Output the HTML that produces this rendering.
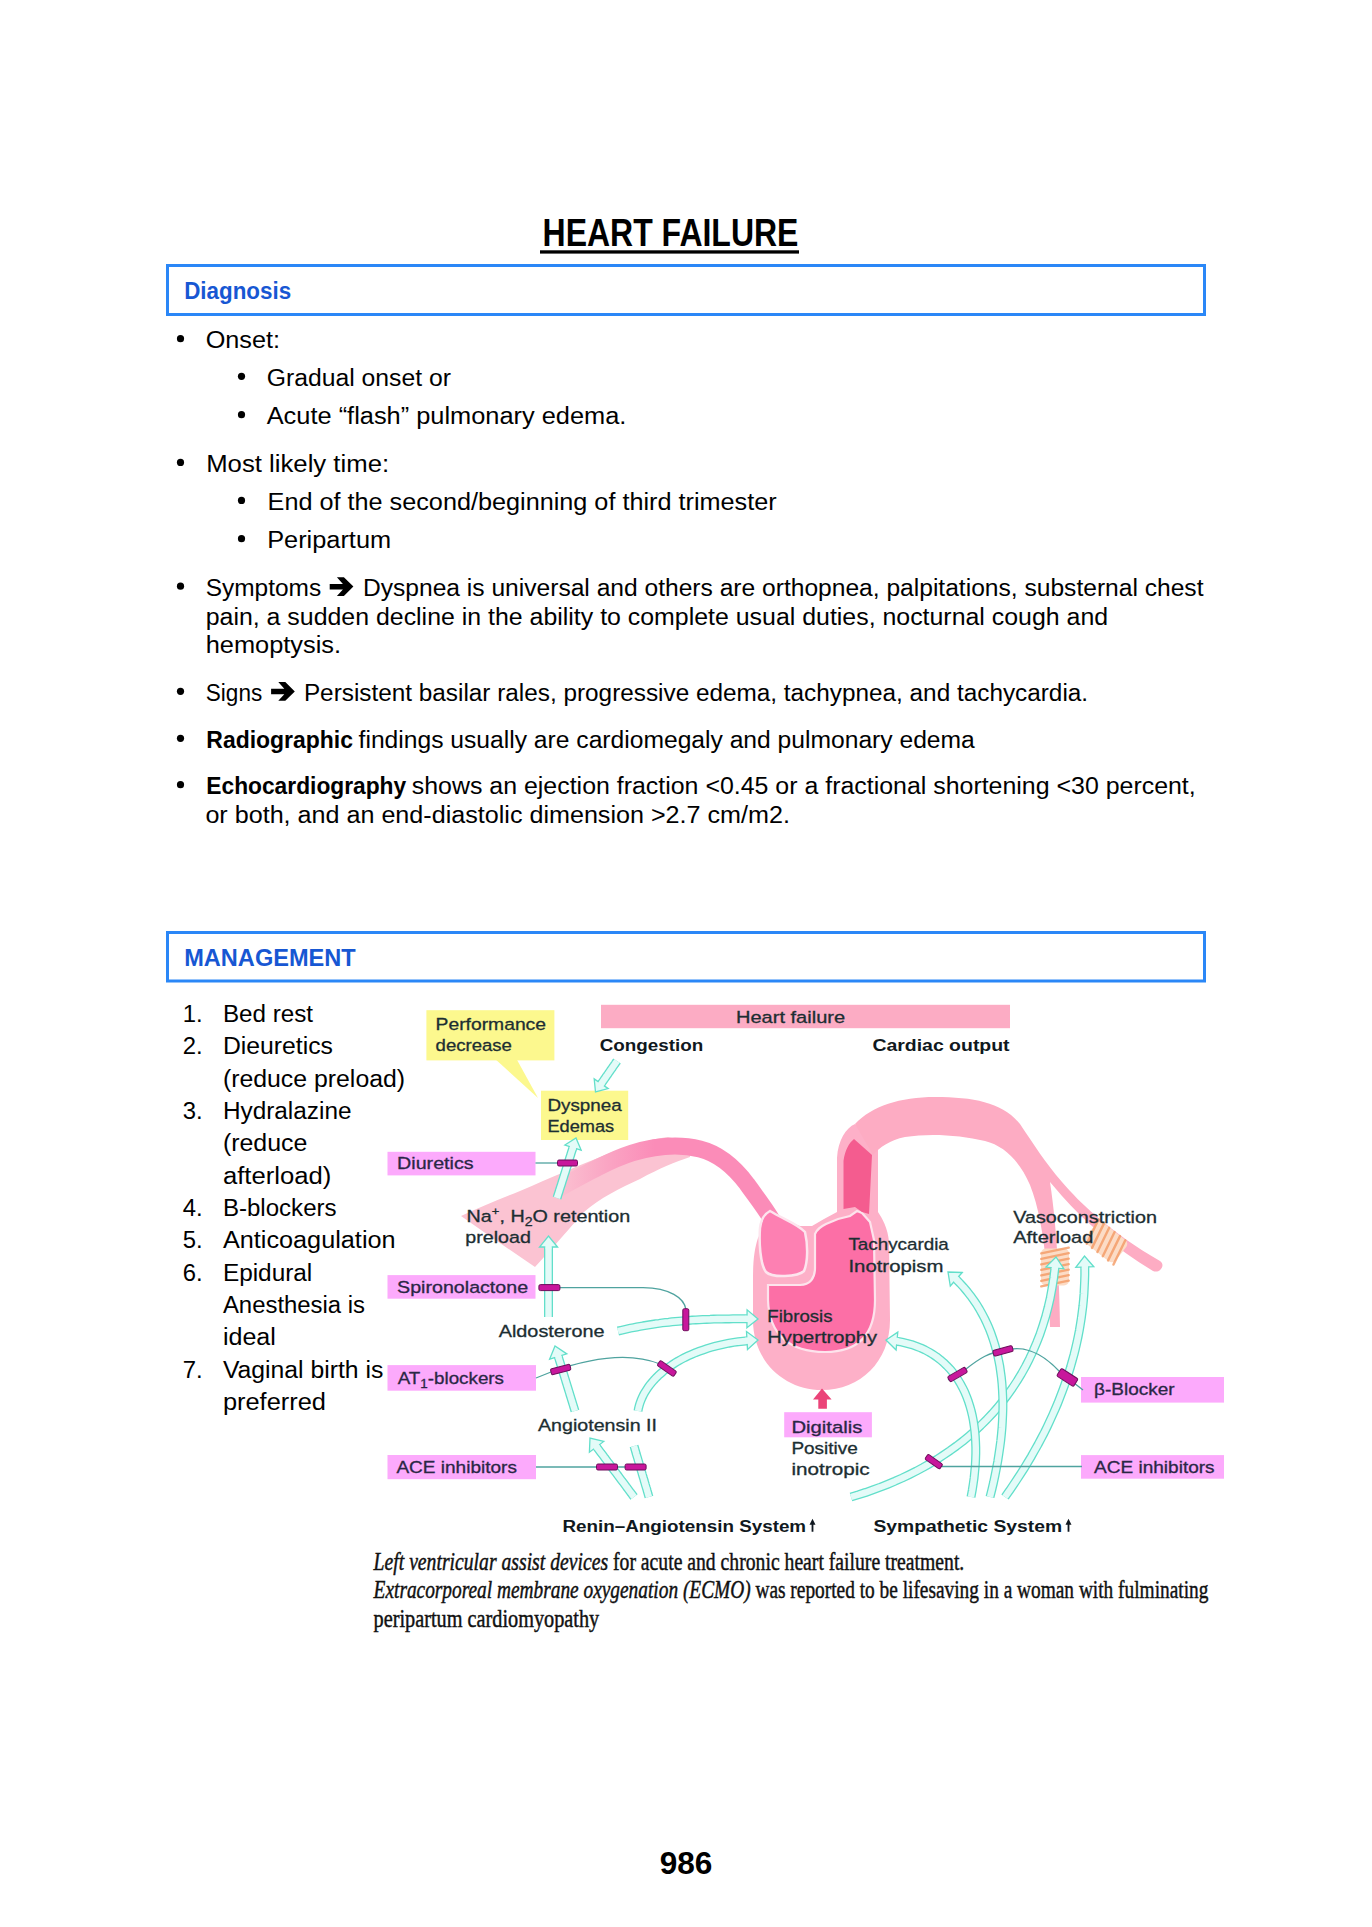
<!DOCTYPE html>
<html><head><meta charset="utf-8"><title>Heart Failure</title>
<style>html,body{margin:0;padding:0;background:#fff;}body{width:1372px;height:1927px;overflow:hidden;position:relative;font-family:"Liberation Sans",sans-serif;}svg{position:absolute;left:0;top:0;}</style>
</head><body>
<svg width="1372" height="1927" viewBox="0 0 1372 1927">
<text x="542.6" y="245.9" font-family='"Liberation Sans", sans-serif' font-size="38" font-weight="bold" font-style="normal" fill="#000" textLength="255.8" lengthAdjust="spacingAndGlyphs">HEART FAILURE</text>
<rect x="540" y="250.3" width="259" height="3.3" fill="#000"/>
<rect x="167.5" y="265.5" width="1037" height="49" fill="none" stroke="#2a87f7" stroke-width="3"/>
<text x="184.2" y="298.7" font-family='"Liberation Sans", sans-serif' font-size="23.5" font-weight="bold" font-style="normal" fill="#1757d3" textLength="106.9" lengthAdjust="spacingAndGlyphs">Diagnosis</text>
<rect x="167.5" y="932.5" width="1037" height="48.5" fill="none" stroke="#2a87f7" stroke-width="3"/>
<text x="184.2" y="965.9" font-family='"Liberation Sans", sans-serif' font-size="24" font-weight="bold" font-style="normal" fill="#1757d3" textLength="171.5" lengthAdjust="spacingAndGlyphs">MANAGEMENT</text>
<circle cx="180.5" cy="338.7" r="3.6" fill="#000"/>
<text x="205.7" y="348.0" font-family='"Liberation Sans", sans-serif' font-size="23" font-weight="normal" font-style="normal" fill="#000" textLength="74.4" lengthAdjust="spacingAndGlyphs">Onset:</text>
<circle cx="241.5" cy="376.3" r="3.6" fill="#000"/>
<text x="266.7" y="385.6" font-family='"Liberation Sans", sans-serif' font-size="23" font-weight="normal" font-style="normal" fill="#000" textLength="184.2" lengthAdjust="spacingAndGlyphs">Gradual onset or</text>
<circle cx="241.5" cy="414.7" r="3.6" fill="#000"/>
<text x="266.7" y="424.0" font-family='"Liberation Sans", sans-serif' font-size="23" font-weight="normal" font-style="normal" fill="#000" textLength="359.7" lengthAdjust="spacingAndGlyphs">Acute “flash” pulmonary edema.</text>
<circle cx="180.5" cy="462.4" r="3.6" fill="#000"/>
<text x="206.2" y="471.7" font-family='"Liberation Sans", sans-serif' font-size="23" font-weight="normal" font-style="normal" fill="#000" textLength="182.9" lengthAdjust="spacingAndGlyphs">Most likely time:</text>
<circle cx="241.5" cy="500.4" r="3.6" fill="#000"/>
<text x="267.6" y="509.7" font-family='"Liberation Sans", sans-serif' font-size="23" font-weight="normal" font-style="normal" fill="#000" textLength="509.0" lengthAdjust="spacingAndGlyphs">End of the second/beginning of third trimester</text>
<circle cx="241.5" cy="538.7" r="3.6" fill="#000"/>
<text x="267.2" y="548.0" font-family='"Liberation Sans", sans-serif' font-size="23" font-weight="normal" font-style="normal" fill="#000" textLength="123.9" lengthAdjust="spacingAndGlyphs">Peripartum</text>
<circle cx="180.5" cy="586.2" r="3.6" fill="#000"/>
<text x="205.7" y="595.5" font-family='"Liberation Sans", sans-serif' font-size="23" font-weight="normal" font-style="normal" fill="#000" textLength="115.5" lengthAdjust="spacingAndGlyphs">Symptoms</text>
<text x="363.0" y="595.5" font-family='"Liberation Sans", sans-serif' font-size="23" font-weight="normal" font-style="normal" fill="#000" textLength="840.5" lengthAdjust="spacingAndGlyphs">Dyspnea is universal and others are orthopnea, palpitations, substernal chest</text>
<text x="205.7" y="624.5" font-family='"Liberation Sans", sans-serif' font-size="23" font-weight="normal" font-style="normal" fill="#000" textLength="902.4" lengthAdjust="spacingAndGlyphs">pain, a sudden decline in the ability to complete usual duties, nocturnal cough and</text>
<text x="205.7" y="653.4" font-family='"Liberation Sans", sans-serif' font-size="23" font-weight="normal" font-style="normal" fill="#000" textLength="135.4" lengthAdjust="spacingAndGlyphs">hemoptysis.</text>
<circle cx="180.5" cy="691.3" r="3.6" fill="#000"/>
<text x="205.8" y="700.6" font-family='"Liberation Sans", sans-serif' font-size="23" font-weight="normal" font-style="normal" fill="#000" textLength="56.4" lengthAdjust="spacingAndGlyphs">Signs</text>
<text x="303.9" y="700.6" font-family='"Liberation Sans", sans-serif' font-size="23" font-weight="normal" font-style="normal" fill="#000" textLength="784.2" lengthAdjust="spacingAndGlyphs">Persistent basilar rales, progressive edema, tachypnea, and tachycardia.</text>
<circle cx="180.5" cy="738.3" r="3.6" fill="#000"/>
<text x="206.3" y="747.6" font-family='"Liberation Sans", sans-serif' font-size="23" font-weight="bold" font-style="normal" fill="#000" textLength="146.7" lengthAdjust="spacingAndGlyphs">Radiographic</text>
<text x="358.6" y="747.6" font-family='"Liberation Sans", sans-serif' font-size="23" font-weight="normal" font-style="normal" fill="#000" textLength="616.2" lengthAdjust="spacingAndGlyphs">findings usually are cardiomegaly and pulmonary edema</text>
<circle cx="180.5" cy="784.7" r="3.6" fill="#000"/>
<text x="206.3" y="794.0" font-family='"Liberation Sans", sans-serif' font-size="23" font-weight="bold" font-style="normal" fill="#000" textLength="199.9" lengthAdjust="spacingAndGlyphs">Echocardiography</text>
<text x="411.8" y="794.0" font-family='"Liberation Sans", sans-serif' font-size="23" font-weight="normal" font-style="normal" fill="#000" textLength="783.9" lengthAdjust="spacingAndGlyphs">shows an ejection fraction &lt;0.45 or a fractional shortening &lt;30 percent,</text>
<text x="205.4" y="822.8" font-family='"Liberation Sans", sans-serif' font-size="23" font-weight="normal" font-style="normal" fill="#000" textLength="584.5" lengthAdjust="spacingAndGlyphs">or both, and an end-diastolic dimension &gt;2.7 cm/m2.</text>
<polygon points="329.7,583.9 342.9,583.9 336.9,577.3 343.9,577.3 353.4,586.6 343.9,596.0 336.9,596.0 342.9,589.4 329.7,589.4" fill="#000"/>
<polygon points="271.1,688.7 284.3,688.7 278.3,682.1 285.3,682.1 294.8,691.5 285.3,700.8 278.3,700.8 284.3,694.2 271.1,694.2" fill="#000"/>
<text x="182.7" y="1021.9" font-family='"Liberation Sans", sans-serif' font-size="23" font-weight="normal" font-style="normal" fill="#000" textLength="19.9" lengthAdjust="spacingAndGlyphs">1.</text>
<text x="222.9" y="1021.9" font-family='"Liberation Sans", sans-serif' font-size="23" font-weight="normal" font-style="normal" fill="#000" textLength="90.2" lengthAdjust="spacingAndGlyphs">Bed rest</text>
<text x="182.7" y="1054.2" font-family='"Liberation Sans", sans-serif' font-size="23" font-weight="normal" font-style="normal" fill="#000" textLength="19.9" lengthAdjust="spacingAndGlyphs">2.</text>
<text x="222.9" y="1054.2" font-family='"Liberation Sans", sans-serif' font-size="23" font-weight="normal" font-style="normal" fill="#000" textLength="110.1" lengthAdjust="spacingAndGlyphs">Dieuretics</text>
<text x="222.9" y="1086.6" font-family='"Liberation Sans", sans-serif' font-size="23" font-weight="normal" font-style="normal" fill="#000" textLength="182.2" lengthAdjust="spacingAndGlyphs">(reduce preload)</text>
<text x="182.7" y="1119.0" font-family='"Liberation Sans", sans-serif' font-size="23" font-weight="normal" font-style="normal" fill="#000" textLength="19.9" lengthAdjust="spacingAndGlyphs">3.</text>
<text x="222.9" y="1119.0" font-family='"Liberation Sans", sans-serif' font-size="23" font-weight="normal" font-style="normal" fill="#000" textLength="128.6" lengthAdjust="spacingAndGlyphs">Hydralazine</text>
<text x="222.9" y="1151.3" font-family='"Liberation Sans", sans-serif' font-size="23" font-weight="normal" font-style="normal" fill="#000" textLength="84.5" lengthAdjust="spacingAndGlyphs">(reduce</text>
<text x="222.9" y="1183.7" font-family='"Liberation Sans", sans-serif' font-size="23" font-weight="normal" font-style="normal" fill="#000" textLength="108.5" lengthAdjust="spacingAndGlyphs">afterload)</text>
<text x="182.7" y="1216.0" font-family='"Liberation Sans", sans-serif' font-size="23" font-weight="normal" font-style="normal" fill="#000" textLength="19.9" lengthAdjust="spacingAndGlyphs">4.</text>
<text x="222.9" y="1216.0" font-family='"Liberation Sans", sans-serif' font-size="23" font-weight="normal" font-style="normal" fill="#000" textLength="113.7" lengthAdjust="spacingAndGlyphs">B-blockers</text>
<text x="182.7" y="1248.3" font-family='"Liberation Sans", sans-serif' font-size="23" font-weight="normal" font-style="normal" fill="#000" textLength="19.9" lengthAdjust="spacingAndGlyphs">5.</text>
<text x="222.9" y="1248.3" font-family='"Liberation Sans", sans-serif' font-size="23" font-weight="normal" font-style="normal" fill="#000" textLength="172.7" lengthAdjust="spacingAndGlyphs">Anticoagulation</text>
<text x="182.7" y="1280.7" font-family='"Liberation Sans", sans-serif' font-size="23" font-weight="normal" font-style="normal" fill="#000" textLength="19.9" lengthAdjust="spacingAndGlyphs">6.</text>
<text x="222.9" y="1280.7" font-family='"Liberation Sans", sans-serif' font-size="23" font-weight="normal" font-style="normal" fill="#000" textLength="89.4" lengthAdjust="spacingAndGlyphs">Epidural</text>
<text x="222.9" y="1313.0" font-family='"Liberation Sans", sans-serif' font-size="23" font-weight="normal" font-style="normal" fill="#000" textLength="142.2" lengthAdjust="spacingAndGlyphs">Anesthesia is</text>
<text x="222.9" y="1345.4" font-family='"Liberation Sans", sans-serif' font-size="23" font-weight="normal" font-style="normal" fill="#000" textLength="53.0" lengthAdjust="spacingAndGlyphs">ideal</text>
<text x="182.7" y="1377.8" font-family='"Liberation Sans", sans-serif' font-size="23" font-weight="normal" font-style="normal" fill="#000" textLength="19.9" lengthAdjust="spacingAndGlyphs">7.</text>
<text x="222.9" y="1377.8" font-family='"Liberation Sans", sans-serif' font-size="23" font-weight="normal" font-style="normal" fill="#000" textLength="160.5" lengthAdjust="spacingAndGlyphs">Vaginal birth is</text>
<text x="222.9" y="1410.1" font-family='"Liberation Sans", sans-serif' font-size="23" font-weight="normal" font-style="normal" fill="#000" textLength="103.1" lengthAdjust="spacingAndGlyphs">preferred</text>
<defs><linearGradient id="bandg" gradientUnits="userSpaceOnUse" x1="556" y1="0" x2="655" y2="0"><stop offset="0" stop-color="#fbc3d2"/><stop offset="0.5" stop-color="#faa6c4"/><stop offset="1" stop-color="#fb8cb8"/></linearGradient></defs>
<path d="M461 1216 C 480 1207, 500 1199, 520 1191 C 550 1178, 580 1165, 605 1155 C 625 1147, 645 1140, 668 1137 L 690 1142 L 690 1157 C 675 1162, 660 1168, 640 1179 C 620 1188, 600 1198, 584 1212 C 572 1225, 562 1238, 535 1267 C 510 1250, 485 1233, 461 1216 Z" fill="#fbc3d2"/>
<path d="M556 1190 C 585 1174, 610 1160, 632 1153 C 655 1146, 680 1144, 700 1149 C 720 1154, 735 1168, 747 1184 C 757 1198, 765 1208, 772 1220" fill="none" stroke="url(#bandg)" stroke-width="17" stroke-linecap="butt"/>
<path d="M758 1238 C 754 1250, 753 1262, 753 1280 L 753 1320 C 753 1362, 785 1390, 822 1390 C 860 1390, 890 1362, 890 1320 L 889 1242 C 888 1228, 882 1218, 878 1212 L 878 1150 L 855 1124 C 846 1128, 838 1140, 837 1158 L 837 1212 L 824 1219 L 812 1226 L 800 1226 L 770 1214 Z" fill="#fdb0c8"/>
<path d="M770 1211 C 783 1219, 798 1224, 805 1232 C 808 1245, 808 1262, 804 1271 C 798 1277, 772 1278, 766 1272 C 760 1264, 759 1242, 760 1228 C 761 1220, 764 1214, 770 1211 Z" fill="#fd80b2" stroke="#fde5ee" stroke-width="2.5"/>
<path d="M815 1234 C 817 1229, 820 1227, 826 1224 L 838 1219 L 850 1216 L 857 1211 L 862 1213 L 870 1222 L 874 1240 L 875 1300 C 875 1335, 858 1352, 825 1352 C 790 1352, 769 1335, 768 1300 L 768 1285 L 800 1285 C 810 1285, 815 1278, 815 1268 Z" fill="#fc6fa6" stroke="#fde3ec" stroke-width="2.2"/>
<path d="M843.5 1209 L 843.5 1161 C 845 1150, 849 1143, 854 1139 L 872 1155 L 869 1214 L 862 1212 L 855 1207 Z" fill="#f45c8f"/>
<path d="M855 1124 C 872 1106, 900 1097, 935 1097 C 975 1097, 1003 1103, 1020 1124 C 1034 1145, 1045 1162, 1062 1182 C 1080 1203, 1110 1232, 1160 1261 C 1166 1265, 1160 1274, 1153 1271 C 1115 1248, 1085 1222, 1062 1196 L 1050 1182 C 1055 1215, 1059 1260, 1060 1327 L 1050 1327 C 1048 1262, 1042 1215, 1030 1185 C 1020 1162, 1005 1146, 985 1141 C 960 1135, 930 1133, 905 1137 C 890 1140, 880 1147, 873 1155 Z" fill="#fdacc3"/>
<rect x="1036.5" y="1253.0" width="37.0" height="28.0" rx="5" fill="#fcdcc6" transform="rotate(90 1055 1267)"/>
<line x1="1041.3" y1="1253.4" x2="1068.7" y2="1247.6" stroke="#f49a64" stroke-width="2.4" stroke-linecap="round" opacity="0.8"/>
<line x1="1041.3" y1="1258.9" x2="1068.7" y2="1253.1" stroke="#f49a64" stroke-width="2.4" stroke-linecap="round" opacity="0.8"/>
<line x1="1041.3" y1="1264.4" x2="1068.7" y2="1258.6" stroke="#f49a64" stroke-width="2.4" stroke-linecap="round" opacity="0.8"/>
<line x1="1041.3" y1="1269.9" x2="1068.7" y2="1264.1" stroke="#f49a64" stroke-width="2.4" stroke-linecap="round" opacity="0.8"/>
<line x1="1041.3" y1="1275.4" x2="1068.7" y2="1269.6" stroke="#f49a64" stroke-width="2.4" stroke-linecap="round" opacity="0.8"/>
<line x1="1041.3" y1="1280.9" x2="1068.7" y2="1275.1" stroke="#f49a64" stroke-width="2.4" stroke-linecap="round" opacity="0.8"/>
<line x1="1041.3" y1="1286.4" x2="1068.7" y2="1280.6" stroke="#f49a64" stroke-width="2.4" stroke-linecap="round" opacity="0.8"/>
<rect x="1087.0" y="1228.5" width="38.0" height="27.0" rx="5" fill="#fcdcc6" transform="rotate(38 1106 1242)"/>
<line x1="1086.7" y1="1243.7" x2="1098.5" y2="1219.4" stroke="#f49a64" stroke-width="2.4" stroke-linecap="round" opacity="0.8"/>
<line x1="1092.0" y1="1247.9" x2="1103.9" y2="1223.6" stroke="#f49a64" stroke-width="2.4" stroke-linecap="round" opacity="0.8"/>
<line x1="1097.4" y1="1252.0" x2="1109.2" y2="1227.8" stroke="#f49a64" stroke-width="2.4" stroke-linecap="round" opacity="0.8"/>
<line x1="1102.8" y1="1256.2" x2="1114.6" y2="1232.0" stroke="#f49a64" stroke-width="2.4" stroke-linecap="round" opacity="0.8"/>
<line x1="1108.1" y1="1260.4" x2="1120.0" y2="1236.1" stroke="#f49a64" stroke-width="2.4" stroke-linecap="round" opacity="0.8"/>
<line x1="1113.5" y1="1264.6" x2="1125.3" y2="1240.3" stroke="#f49a64" stroke-width="2.4" stroke-linecap="round" opacity="0.8"/>
<rect x="601" y="1004.8" width="409" height="23.4" fill="#fcacc4"/>
<text x="736.0" y="1023.2" font-family='"Liberation Sans", sans-serif' font-size="16.8" font-weight="normal" font-style="normal" fill="#1c2e32" textLength="109.1" lengthAdjust="spacingAndGlyphs" stroke="#1c2e32" stroke-width="0.3">Heart failure</text>
<text x="599.7" y="1051.4" font-family='"Liberation Sans", sans-serif' font-size="16.8" font-weight="bold" font-style="normal" fill="#101820" textLength="103.6" lengthAdjust="spacingAndGlyphs">Congestion</text>
<text x="872.4" y="1051.4" font-family='"Liberation Sans", sans-serif' font-size="16.8" font-weight="bold" font-style="normal" fill="#101820" textLength="137.2" lengthAdjust="spacingAndGlyphs">Cardiac output</text>
<polygon points="494,1058 516,1058 538,1098" fill="#fcf88e"/>
<rect x="426.4" y="1010.2" width="128" height="50.2" fill="#fcf88e"/>
<rect x="541" y="1090.7" width="87.2" height="49.3" fill="#fcf88e"/>
<text x="435.6" y="1030.0" font-family='"Liberation Sans", sans-serif' font-size="16.8" font-weight="normal" font-style="normal" fill="#1c2e32" textLength="110.4" lengthAdjust="spacingAndGlyphs" stroke="#1c2e32" stroke-width="0.3">Performance</text>
<text x="435.6" y="1050.9" font-family='"Liberation Sans", sans-serif' font-size="16.8" font-weight="normal" font-style="normal" fill="#1c2e32" textLength="76.3" lengthAdjust="spacingAndGlyphs" stroke="#1c2e32" stroke-width="0.3">decrease</text>
<text x="547.4" y="1110.6" font-family='"Liberation Sans", sans-serif' font-size="16.8" font-weight="normal" font-style="normal" fill="#1c2e32" textLength="74.4" lengthAdjust="spacingAndGlyphs" stroke="#1c2e32" stroke-width="0.3">Dyspnea</text>
<text x="547.4" y="1131.8" font-family='"Liberation Sans", sans-serif' font-size="16.8" font-weight="normal" font-style="normal" fill="#1c2e32" textLength="66.8" lengthAdjust="spacingAndGlyphs" stroke="#1c2e32" stroke-width="0.3">Edemas</text>
<rect x="387.5" y="1151.8" width="148" height="23.6" fill="#fcaafc"/>
<rect x="387.5" y="1275.1" width="148" height="23.6" fill="#fcaafc"/>
<rect x="387.5" y="1365.1" width="148.5" height="25.6" fill="#fcaafc"/>
<rect x="387.5" y="1455" width="148.5" height="24.2" fill="#fcaafc"/>
<rect x="784.2" y="1412.2" width="87.7" height="25.1" fill="#fcaafc"/>
<rect x="1081" y="1377" width="143" height="25.6" fill="#fcaafc"/>
<rect x="1081" y="1455.1" width="143" height="23.6" fill="#fcaafc"/>
<text x="397.1" y="1169.1" font-family='"Liberation Sans", sans-serif' font-size="16.8" font-weight="normal" font-style="normal" fill="#2a2745" textLength="76.5" lengthAdjust="spacingAndGlyphs" stroke="#2a2745" stroke-width="0.3">Diuretics</text>
<text x="397.1" y="1292.8" font-family='"Liberation Sans", sans-serif' font-size="16.8" font-weight="normal" font-style="normal" fill="#2a2745" textLength="131.0" lengthAdjust="spacingAndGlyphs" stroke="#2a2745" stroke-width="0.3">Spironolactone</text>
<text x="397.7" y="1383.5" font-family='"Liberation Sans", sans-serif' font-size="16.8" fill="#2a2745" stroke="#2a2745" stroke-width="0.3" textLength="106.3" lengthAdjust="spacingAndGlyphs">AT<tspan font-size="12" dy="4">1</tspan><tspan dy="-4">-blockers</tspan></text>
<text x="396.4" y="1473.3" font-family='"Liberation Sans", sans-serif' font-size="16.8" font-weight="normal" font-style="normal" fill="#2a2745" textLength="120.5" lengthAdjust="spacingAndGlyphs" stroke="#2a2745" stroke-width="0.3">ACE inhibitors</text>
<text x="791.4" y="1433.0" font-family='"Liberation Sans", sans-serif' font-size="16.8" font-weight="normal" font-style="normal" fill="#2a2745" textLength="71.1" lengthAdjust="spacingAndGlyphs" stroke="#2a2745" stroke-width="0.3">Digitalis</text>
<text x="1094.1" y="1395.4" font-family='"Liberation Sans", sans-serif' font-size="16.8" font-weight="normal" font-style="normal" fill="#2a2745" textLength="80.5" lengthAdjust="spacingAndGlyphs" stroke="#2a2745" stroke-width="0.3">β-Blocker</text>
<text x="1094.1" y="1472.8" font-family='"Liberation Sans", sans-serif' font-size="16.8" font-weight="normal" font-style="normal" fill="#2a2745" textLength="120.5" lengthAdjust="spacingAndGlyphs" stroke="#2a2745" stroke-width="0.3">ACE inhibitors</text>
<text x="466.6" y="1222" font-family='"Liberation Sans", sans-serif' font-size="16.8" fill="#1c2e32" stroke="#1c2e32" stroke-width="0.3" textLength="163.6" lengthAdjust="spacingAndGlyphs">Na<tspan font-size="11" dy="-7">+</tspan><tspan dy="7">, H</tspan><tspan font-size="12" dy="4">2</tspan><tspan dy="-4">O retention</tspan></text>
<text x="465.3" y="1243.0" font-family='"Liberation Sans", sans-serif' font-size="16.8" font-weight="normal" font-style="normal" fill="#1c2e32" textLength="65.6" lengthAdjust="spacingAndGlyphs" stroke="#1c2e32" stroke-width="0.3">preload</text>
<text x="498.7" y="1336.8" font-family='"Liberation Sans", sans-serif' font-size="16.8" font-weight="normal" font-style="normal" fill="#1c2e32" textLength="105.9" lengthAdjust="spacingAndGlyphs" stroke="#1c2e32" stroke-width="0.3">Aldosterone</text>
<text x="538.0" y="1430.8" font-family='"Liberation Sans", sans-serif' font-size="16.8" font-weight="normal" font-style="normal" fill="#1c2e32" textLength="119.0" lengthAdjust="spacingAndGlyphs" stroke="#1c2e32" stroke-width="0.3">Angiotensin II</text>
<text x="767.3" y="1321.7" font-family='"Liberation Sans", sans-serif' font-size="16.8" font-weight="normal" font-style="normal" fill="#1c2e32" textLength="65.3" lengthAdjust="spacingAndGlyphs" stroke="#1c2e32" stroke-width="0.3">Fibrosis</text>
<text x="767.3" y="1342.7" font-family='"Liberation Sans", sans-serif' font-size="16.8" font-weight="normal" font-style="normal" fill="#1c2e32" textLength="109.7" lengthAdjust="spacingAndGlyphs" stroke="#1c2e32" stroke-width="0.3">Hypertrophy</text>
<text x="848.4" y="1250.0" font-family='"Liberation Sans", sans-serif' font-size="16.8" font-weight="normal" font-style="normal" fill="#1c2e32" textLength="100.4" lengthAdjust="spacingAndGlyphs" stroke="#1c2e32" stroke-width="0.3">Tachycardia</text>
<text x="848.4" y="1271.7" font-family='"Liberation Sans", sans-serif' font-size="16.8" font-weight="normal" font-style="normal" fill="#1c2e32" textLength="95.1" lengthAdjust="spacingAndGlyphs" stroke="#1c2e32" stroke-width="0.3">Inotropism</text>
<text x="1013.2" y="1222.5" font-family='"Liberation Sans", sans-serif' font-size="16.8" font-weight="normal" font-style="normal" fill="#1c2e32" textLength="143.8" lengthAdjust="spacingAndGlyphs" stroke="#1c2e32" stroke-width="0.3">Vasoconstriction</text>
<text x="1013.2" y="1243.3" font-family='"Liberation Sans", sans-serif' font-size="16.8" font-weight="normal" font-style="normal" fill="#1c2e32" textLength="80.1" lengthAdjust="spacingAndGlyphs" stroke="#1c2e32" stroke-width="0.3">Afterload</text>
<text x="791.4" y="1453.9" font-family='"Liberation Sans", sans-serif' font-size="16.8" font-weight="normal" font-style="normal" fill="#1c2e32" textLength="66.4" lengthAdjust="spacingAndGlyphs" stroke="#1c2e32" stroke-width="0.3">Positive</text>
<text x="791.4" y="1474.7" font-family='"Liberation Sans", sans-serif' font-size="16.8" font-weight="normal" font-style="normal" fill="#1c2e32" textLength="78.2" lengthAdjust="spacingAndGlyphs" stroke="#1c2e32" stroke-width="0.3">inotropic</text>
<text x="562.5" y="1531.8" font-family='"Liberation Sans", sans-serif' font-size="16.8" font-weight="bold" font-style="normal" fill="#101820" textLength="243.6" lengthAdjust="spacingAndGlyphs">Renin–Angiotensin System</text>
<text x="873.4" y="1531.8" font-family='"Liberation Sans", sans-serif' font-size="16.8" font-weight="bold" font-style="normal" fill="#101820" textLength="188.7" lengthAdjust="spacingAndGlyphs">Sympathetic System</text>
<path d="M812.5 1518.8 L 809.5 1524.8 L 811.6 1524.8 L 811.6 1531.8 L 813.4 1531.8 L 813.4 1524.8 L 815.5 1524.8 Z" fill="#101820"/>
<path d="M1068.5 1518.8 L 1065.5 1524.8 L 1067.6 1524.8 L 1067.6 1531.8 L 1069.4 1531.8 L 1069.4 1524.8 L 1071.5 1524.8 Z" fill="#101820"/>
<path d="M822 1388.5 L 831.6 1399.4 L 826.9 1399.4 L 826.9 1408.8 L 818.3 1408.8 L 818.3 1399.4 L 813 1399.4 Z" fill="#eb4479"/>
<path d="M617.0 1061.0 L616.5 1061.8 L615.9 1062.5 L615.4 1063.3 L614.9 1064.1 L614.3 1064.9 L613.8 1065.6 L613.2 1066.4 L612.7 1067.2 L612.2 1068.0 L611.6 1068.8 L611.1 1069.5 L610.5 1070.3 L610.0 1071.1 L609.5 1071.9 L608.9 1072.6 L608.4 1073.4 L607.9 1074.2 L607.3 1075.0 L606.8 1075.7 L606.2 1076.5 L605.7 1077.3 L605.2 1078.1 L604.6 1078.8 L604.1 1079.6 L603.6 1080.4 L603.0 1081.2 L602.5 1081.9 L601.9 1082.7 L601.4 1083.5 L600.9 1084.2 L600.3 1085.0" fill="none" stroke="#62dfca" stroke-width="9" stroke-linejoin="round"/>
<path d="M617.0 1061.0 L616.5 1061.8 L615.9 1062.5 L615.4 1063.3 L614.9 1064.1 L614.3 1064.9 L613.8 1065.6 L613.2 1066.4 L612.7 1067.2 L612.2 1068.0 L611.6 1068.8 L611.1 1069.5 L610.5 1070.3 L610.0 1071.1 L609.5 1071.9 L608.9 1072.6 L608.4 1073.4 L607.9 1074.2 L607.3 1075.0 L606.8 1075.7 L606.2 1076.5 L605.7 1077.3 L605.2 1078.1 L604.6 1078.8 L604.1 1079.6 L603.6 1080.4 L603.0 1081.2 L602.5 1081.9 L601.9 1082.7 L601.4 1083.5 L600.9 1084.2 L600.3 1085.0" fill="none" stroke="#e4fbf8" stroke-width="6.4" stroke-linejoin="round"/>
<polygon points="594.2,1078.9 595.5,1092.0 608.2,1088.6" fill="#e4fbf8" stroke="#62dfca" stroke-width="1.3" stroke-linejoin="miter"/>
<line x1="602.1" y1="1082.6" x2="599.8" y2="1085.8" stroke="#e4fbf8" stroke-width="6.4"/>
<path d="M557.0 1198.0 L557.5 1196.5 L557.9 1195.0 L558.4 1193.5 L558.9 1192.0 L559.4 1190.5 L559.8 1189.0 L560.3 1187.5 L560.8 1186.0 L561.3 1184.5 L561.8 1183.0 L562.2 1181.5 L562.7 1180.0 L563.2 1178.5 L563.7 1177.0 L564.1 1175.5 L564.6 1174.0 L565.1 1172.5 L565.6 1171.0 L566.0 1169.5 L566.5 1168.0 L567.0 1166.5 L567.5 1165.0 L567.9 1163.5 L568.4 1162.0 L568.9 1160.5 L569.3 1159.0 L569.8 1157.5 L570.3 1156.0 L570.8 1154.5 L571.2 1153.0 L571.7 1151.5 L572.2 1150.0 L572.7 1148.5 L573.1 1147.0 L573.4 1146.1" fill="none" stroke="#62dfca" stroke-width="9" stroke-linejoin="round"/>
<path d="M557.0 1198.0 L557.5 1196.5 L557.9 1195.0 L558.4 1193.5 L558.9 1192.0 L559.4 1190.5 L559.8 1189.0 L560.3 1187.5 L560.8 1186.0 L561.3 1184.5 L561.8 1183.0 L562.2 1181.5 L562.7 1180.0 L563.2 1178.5 L563.7 1177.0 L564.1 1175.5 L564.6 1174.0 L565.1 1172.5 L565.6 1171.0 L566.0 1169.5 L566.5 1168.0 L567.0 1166.5 L567.5 1165.0 L567.9 1163.5 L568.4 1162.0 L568.9 1160.5 L569.3 1159.0 L569.8 1157.5 L570.3 1156.0 L570.8 1154.5 L571.2 1153.0 L571.7 1151.5 L572.2 1150.0 L572.7 1148.5 L573.1 1147.0 L573.4 1146.1" fill="none" stroke="#e4fbf8" stroke-width="6.4" stroke-linejoin="round"/>
<polygon points="581.1,1150.1 576.0,1138.0 564.9,1145.0" fill="#e4fbf8" stroke="#62dfca" stroke-width="1.3" stroke-linejoin="miter"/>
<line x1="572.5" y1="1149.0" x2="573.7" y2="1145.2" stroke="#e4fbf8" stroke-width="6.4"/>
<path d="M548.5 1317.0 L548.5 1315.0 L548.5 1312.9 L548.5 1310.9 L548.5 1308.9 L548.5 1306.9 L548.5 1304.8 L548.5 1302.8 L548.5 1300.8 L548.5 1298.8 L548.5 1296.8 L548.5 1294.7 L548.5 1292.7 L548.5 1290.7 L548.5 1288.7 L548.5 1286.6 L548.5 1284.6 L548.5 1282.6 L548.5 1280.6 L548.5 1278.5 L548.5 1276.5 L548.5 1274.5 L548.5 1272.5 L548.5 1270.4 L548.5 1268.4 L548.5 1266.4 L548.5 1264.3 L548.5 1262.3 L548.5 1260.3 L548.5 1258.3 L548.5 1256.2 L548.5 1254.2 L548.5 1252.2 L548.5 1250.2 L548.5 1248.2 L548.5 1246.1 L548.5 1245.5" fill="none" stroke="#62dfca" stroke-width="9" stroke-linejoin="round"/>
<path d="M548.5 1317.0 L548.5 1315.0 L548.5 1312.9 L548.5 1310.9 L548.5 1308.9 L548.5 1306.9 L548.5 1304.8 L548.5 1302.8 L548.5 1300.8 L548.5 1298.8 L548.5 1296.8 L548.5 1294.7 L548.5 1292.7 L548.5 1290.7 L548.5 1288.7 L548.5 1286.6 L548.5 1284.6 L548.5 1282.6 L548.5 1280.6 L548.5 1278.5 L548.5 1276.5 L548.5 1274.5 L548.5 1272.5 L548.5 1270.4 L548.5 1268.4 L548.5 1266.4 L548.5 1264.3 L548.5 1262.3 L548.5 1260.3 L548.5 1258.3 L548.5 1256.2 L548.5 1254.2 L548.5 1252.2 L548.5 1250.2 L548.5 1248.2 L548.5 1246.1 L548.5 1245.5" fill="none" stroke="#e4fbf8" stroke-width="6.4" stroke-linejoin="round"/>
<polygon points="557.5,1247.0 548.5,1236.0 539.5,1247.0" fill="#e4fbf8" stroke="#62dfca" stroke-width="1.3" stroke-linejoin="miter"/>
<line x1="548.5" y1="1248.5" x2="548.5" y2="1244.5" stroke="#e4fbf8" stroke-width="6.4"/>
<path d="M575.0 1411.0 L574.5 1409.4 L574.0 1407.7 L573.5 1406.1 L573.0 1404.5 L572.5 1402.9 L572.0 1401.2 L571.5 1399.6 L571.0 1398.0 L570.5 1396.4 L570.0 1394.8 L569.5 1393.1 L569.0 1391.5 L568.5 1389.9 L568.0 1388.2 L567.5 1386.6 L567.0 1385.0 L566.5 1383.4 L566.0 1381.8 L565.5 1380.1 L565.0 1378.5 L564.5 1376.9 L564.0 1375.2 L563.5 1373.6 L563.0 1372.0 L562.5 1370.4 L562.0 1368.8 L561.5 1367.1 L561.0 1365.5 L560.5 1363.9 L560.0 1362.2 L559.5 1360.6 L559.0 1359.0 L558.5 1357.4 L558.0 1355.8 L557.8 1355.1" fill="none" stroke="#62dfca" stroke-width="9" stroke-linejoin="round"/>
<path d="M575.0 1411.0 L574.5 1409.4 L574.0 1407.7 L573.5 1406.1 L573.0 1404.5 L572.5 1402.9 L572.0 1401.2 L571.5 1399.6 L571.0 1398.0 L570.5 1396.4 L570.0 1394.8 L569.5 1393.1 L569.0 1391.5 L568.5 1389.9 L568.0 1388.2 L567.5 1386.6 L567.0 1385.0 L566.5 1383.4 L566.0 1381.8 L565.5 1380.1 L565.0 1378.5 L564.5 1376.9 L564.0 1375.2 L563.5 1373.6 L563.0 1372.0 L562.5 1370.4 L562.0 1368.8 L561.5 1367.1 L561.0 1365.5 L560.5 1363.9 L560.0 1362.2 L559.5 1360.6 L559.0 1359.0 L558.5 1357.4 L558.0 1355.8 L557.8 1355.1" fill="none" stroke="#e4fbf8" stroke-width="6.4" stroke-linejoin="round"/>
<polygon points="566.8,1353.9 555.0,1346.0 549.6,1359.2" fill="#e4fbf8" stroke="#62dfca" stroke-width="1.3" stroke-linejoin="miter"/>
<line x1="558.7" y1="1357.9" x2="557.5" y2="1354.1" stroke="#e4fbf8" stroke-width="6.4"/>
<path d="M638.0 1411.0 L638.5 1408.3 L639.2 1405.6 L640.0 1403.0 L641.0 1400.3 L642.1 1397.7 L643.3 1395.2 L644.7 1392.6 L646.3 1390.1 L647.9 1387.6 L649.7 1385.1 L651.7 1382.7 L653.7 1380.4 L655.9 1378.0 L658.2 1375.7 L660.7 1373.5 L663.2 1371.3 L665.9 1369.2 L668.8 1367.1 L671.7 1365.1 L674.8 1363.1 L677.9 1361.2 L681.2 1359.4 L684.6 1357.6 L688.1 1355.9 L691.7 1354.3 L695.5 1352.7 L699.3 1351.3 L703.2 1349.9 L707.3 1348.5 L711.4 1347.3 L715.6 1346.1 L720.0 1345.1 L724.4 1344.1 L728.9 1343.2 L733.6 1342.4 L738.3 1341.7 L743.1 1341.2 L748.0 1340.7 L748.5 1340.5" fill="none" stroke="#62dfca" stroke-width="9" stroke-linejoin="round"/>
<path d="M638.0 1411.0 L638.5 1408.3 L639.2 1405.6 L640.0 1403.0 L641.0 1400.3 L642.1 1397.7 L643.3 1395.2 L644.7 1392.6 L646.3 1390.1 L647.9 1387.6 L649.7 1385.1 L651.7 1382.7 L653.7 1380.4 L655.9 1378.0 L658.2 1375.7 L660.7 1373.5 L663.2 1371.3 L665.9 1369.2 L668.8 1367.1 L671.7 1365.1 L674.8 1363.1 L677.9 1361.2 L681.2 1359.4 L684.6 1357.6 L688.1 1355.9 L691.7 1354.3 L695.5 1352.7 L699.3 1351.3 L703.2 1349.9 L707.3 1348.5 L711.4 1347.3 L715.6 1346.1 L720.0 1345.1 L724.4 1344.1 L728.9 1343.2 L733.6 1342.4 L738.3 1341.7 L743.1 1341.2 L748.0 1340.7 L748.5 1340.5" fill="none" stroke="#e4fbf8" stroke-width="6.4" stroke-linejoin="round"/>
<polygon points="747.5,1349.6 758.0,1340.0 746.5,1331.6" fill="#e4fbf8" stroke="#62dfca" stroke-width="1.3" stroke-linejoin="miter"/>
<line x1="745.5" y1="1340.7" x2="749.5" y2="1340.5" stroke="#e4fbf8" stroke-width="6.4"/>
<path d="M649.0 1497.0 L648.6 1495.7 L648.2 1494.4 L647.9 1493.2 L647.5 1491.9 L647.1 1490.6 L646.8 1489.3 L646.4 1488.1 L646.0 1486.8 L645.6 1485.5 L645.2 1484.2 L644.9 1483.0 L644.5 1481.7 L644.1 1480.4 L643.8 1479.1 L643.4 1477.9 L643.0 1476.6 L642.6 1475.3 L642.2 1474.1 L641.9 1472.8 L641.5 1471.5 L641.1 1470.2 L640.8 1468.9 L640.4 1467.7 L640.0 1466.4 L639.6 1465.1 L639.2 1463.8 L638.9 1462.6 L638.5 1461.3 L638.1 1460.0 L637.8 1458.8 L637.4 1457.5 L637.0 1456.2 L636.6 1454.9 L636.2 1453.7 L635.9 1452.4 L635.5 1451.1 L635.1 1449.8 L634.8 1448.6 L634.4 1447.3 L634.0 1446.0" fill="none" stroke="#62dfca" stroke-width="9" stroke-linejoin="round"/>
<path d="M649.0 1497.0 L648.6 1495.7 L648.2 1494.4 L647.9 1493.2 L647.5 1491.9 L647.1 1490.6 L646.8 1489.3 L646.4 1488.1 L646.0 1486.8 L645.6 1485.5 L645.2 1484.2 L644.9 1483.0 L644.5 1481.7 L644.1 1480.4 L643.8 1479.1 L643.4 1477.9 L643.0 1476.6 L642.6 1475.3 L642.2 1474.1 L641.9 1472.8 L641.5 1471.5 L641.1 1470.2 L640.8 1468.9 L640.4 1467.7 L640.0 1466.4 L639.6 1465.1 L639.2 1463.8 L638.9 1462.6 L638.5 1461.3 L638.1 1460.0 L637.8 1458.8 L637.4 1457.5 L637.0 1456.2 L636.6 1454.9 L636.2 1453.7 L635.9 1452.4 L635.5 1451.1 L635.1 1449.8 L634.8 1448.6 L634.4 1447.3 L634.0 1446.0" fill="none" stroke="#e4fbf8" stroke-width="6.4" stroke-linejoin="round"/>
<path d="M618.0 1331.0 L621.1 1330.3 L624.3 1329.6 L627.4 1328.9 L630.6 1328.2 L633.7 1327.6 L636.8 1327.0 L640.0 1326.4 L643.1 1325.8 L646.3 1325.3 L649.4 1324.8 L652.6 1324.3 L655.8 1323.8 L659.0 1323.4 L662.2 1322.9 L665.5 1322.5 L668.7 1322.2 L672.0 1321.8 L675.3 1321.5 L678.6 1321.2 L682.0 1320.9 L685.4 1320.6 L688.8 1320.4 L692.3 1320.1 L695.8 1319.9 L699.3 1319.7 L702.9 1319.5 L706.5 1319.4 L710.1 1319.3 L713.8 1319.1 L717.6 1319.0 L721.4 1319.0 L725.2 1318.9 L729.1 1318.9 L733.0 1318.8 L737.1 1318.8 L741.1 1318.8 L745.2 1318.8 L748.5 1318.9" fill="none" stroke="#62dfca" stroke-width="9" stroke-linejoin="round"/>
<path d="M618.0 1331.0 L621.1 1330.3 L624.3 1329.6 L627.4 1328.9 L630.6 1328.2 L633.7 1327.6 L636.8 1327.0 L640.0 1326.4 L643.1 1325.8 L646.3 1325.3 L649.4 1324.8 L652.6 1324.3 L655.8 1323.8 L659.0 1323.4 L662.2 1322.9 L665.5 1322.5 L668.7 1322.2 L672.0 1321.8 L675.3 1321.5 L678.6 1321.2 L682.0 1320.9 L685.4 1320.6 L688.8 1320.4 L692.3 1320.1 L695.8 1319.9 L699.3 1319.7 L702.9 1319.5 L706.5 1319.4 L710.1 1319.3 L713.8 1319.1 L717.6 1319.0 L721.4 1319.0 L725.2 1318.9 L729.1 1318.9 L733.0 1318.8 L737.1 1318.8 L741.1 1318.8 L745.2 1318.8 L748.5 1318.9" fill="none" stroke="#e4fbf8" stroke-width="6.4" stroke-linejoin="round"/>
<polygon points="746.9,1327.8 758.0,1319.0 747.1,1309.8" fill="#e4fbf8" stroke="#62dfca" stroke-width="1.3" stroke-linejoin="miter"/>
<line x1="745.5" y1="1318.8" x2="749.5" y2="1318.9" stroke="#e4fbf8" stroke-width="6.4"/>
<path d="M634.0 1497.0 L632.9 1495.5 L631.8 1494.0 L630.7 1492.6 L629.6 1491.1 L628.5 1489.6 L627.4 1488.1 L626.3 1486.7 L625.2 1485.2 L624.1 1483.7 L623.0 1482.2 L621.9 1480.8 L620.8 1479.3 L619.7 1477.8 L618.6 1476.3 L617.5 1474.9 L616.4 1473.4 L615.3 1471.9 L614.2 1470.5 L613.1 1469.0 L612.0 1467.5 L610.9 1466.0 L609.8 1464.5 L608.7 1463.1 L607.6 1461.6 L606.5 1460.1 L605.4 1458.6 L604.3 1457.2 L603.2 1455.7 L602.1 1454.2 L601.0 1452.8 L599.9 1451.3 L598.8 1449.8 L597.7 1448.3 L596.6 1446.8 L595.7 1445.6" fill="none" stroke="#62dfca" stroke-width="9" stroke-linejoin="round"/>
<path d="M634.0 1497.0 L632.9 1495.5 L631.8 1494.0 L630.7 1492.6 L629.6 1491.1 L628.5 1489.6 L627.4 1488.1 L626.3 1486.7 L625.2 1485.2 L624.1 1483.7 L623.0 1482.2 L621.9 1480.8 L620.8 1479.3 L619.7 1477.8 L618.6 1476.3 L617.5 1474.9 L616.4 1473.4 L615.3 1471.9 L614.2 1470.5 L613.1 1469.0 L612.0 1467.5 L610.9 1466.0 L609.8 1464.5 L608.7 1463.1 L607.6 1461.6 L606.5 1460.1 L605.4 1458.6 L604.3 1457.2 L603.2 1455.7 L602.1 1454.2 L601.0 1452.8 L599.9 1451.3 L598.8 1449.8 L597.7 1448.3 L596.6 1446.8 L595.7 1445.6" fill="none" stroke="#e4fbf8" stroke-width="6.4" stroke-linejoin="round"/>
<polygon points="603.8,1441.4 590.0,1438.0 589.4,1452.2" fill="#e4fbf8" stroke="#62dfca" stroke-width="1.3" stroke-linejoin="miter"/>
<line x1="597.5" y1="1448.0" x2="595.1" y2="1444.8" stroke="#e4fbf8" stroke-width="6.4"/>
<path d="M851.0 1497.0 L858.4 1494.8 L865.8 1492.4 L873.2 1489.8 L880.5 1487.1 L887.8 1484.2 L895.0 1481.2 L902.2 1478.0 L909.3 1474.6 L916.3 1471.1 L923.2 1467.4 L930.1 1463.5 L936.9 1459.4 L943.5 1455.1 L950.0 1450.7 L956.5 1446.0 L962.8 1441.2 L968.9 1436.1 L974.9 1430.9 L980.8 1425.4 L986.5 1419.8 L992.0 1413.9 L997.4 1407.8 L1002.6 1401.4 L1007.6 1394.9 L1012.4 1388.1 L1017.0 1381.1 L1021.4 1373.9 L1025.6 1366.4 L1029.5 1358.7 L1033.2 1350.8 L1036.7 1342.5 L1040.0 1334.1 L1042.9 1325.4 L1045.7 1316.4 L1048.1 1307.2 L1050.3 1297.7 L1052.1 1287.9 L1053.7 1277.9 L1055.0 1267.6 L1055.1 1266.5" fill="none" stroke="#62dfca" stroke-width="9" stroke-linejoin="round"/>
<path d="M851.0 1497.0 L858.4 1494.8 L865.8 1492.4 L873.2 1489.8 L880.5 1487.1 L887.8 1484.2 L895.0 1481.2 L902.2 1478.0 L909.3 1474.6 L916.3 1471.1 L923.2 1467.4 L930.1 1463.5 L936.9 1459.4 L943.5 1455.1 L950.0 1450.7 L956.5 1446.0 L962.8 1441.2 L968.9 1436.1 L974.9 1430.9 L980.8 1425.4 L986.5 1419.8 L992.0 1413.9 L997.4 1407.8 L1002.6 1401.4 L1007.6 1394.9 L1012.4 1388.1 L1017.0 1381.1 L1021.4 1373.9 L1025.6 1366.4 L1029.5 1358.7 L1033.2 1350.8 L1036.7 1342.5 L1040.0 1334.1 L1042.9 1325.4 L1045.7 1316.4 L1048.1 1307.2 L1050.3 1297.7 L1052.1 1287.9 L1053.7 1277.9 L1055.0 1267.6 L1055.1 1266.5" fill="none" stroke="#e4fbf8" stroke-width="6.4" stroke-linejoin="round"/>
<polygon points="1063.9,1268.8 1056.0,1257.0 1046.0,1267.1" fill="#e4fbf8" stroke="#62dfca" stroke-width="1.3" stroke-linejoin="miter"/>
<line x1="1054.8" y1="1269.4" x2="1055.2" y2="1265.5" stroke="#e4fbf8" stroke-width="6.4"/>
<path d="M971.0 1497.0 L972.2 1490.5 L973.2 1484.1 L974.1 1477.8 L974.7 1471.6 L975.3 1465.5 L975.6 1459.5 L975.8 1453.5 L975.8 1447.7 L975.6 1442.0 L975.3 1436.5 L974.8 1431.0 L974.1 1425.7 L973.3 1420.5 L972.3 1415.4 L971.1 1410.4 L969.7 1405.6 L968.2 1400.9 L966.5 1396.4 L964.7 1392.0 L962.6 1387.8 L960.4 1383.7 L958.0 1379.7 L955.5 1376.0 L952.8 1372.4 L949.9 1368.9 L946.8 1365.7 L943.6 1362.6 L940.2 1359.7 L936.6 1356.9 L932.9 1354.4 L929.0 1352.1 L924.9 1349.9 L920.6 1347.9 L916.2 1346.2 L911.6 1344.6 L906.8 1343.3 L901.9 1342.1 L896.8 1341.2 L895.5 1340.9" fill="none" stroke="#62dfca" stroke-width="9" stroke-linejoin="round"/>
<path d="M971.0 1497.0 L972.2 1490.5 L973.2 1484.1 L974.1 1477.8 L974.7 1471.6 L975.3 1465.5 L975.6 1459.5 L975.8 1453.5 L975.8 1447.7 L975.6 1442.0 L975.3 1436.5 L974.8 1431.0 L974.1 1425.7 L973.3 1420.5 L972.3 1415.4 L971.1 1410.4 L969.7 1405.6 L968.2 1400.9 L966.5 1396.4 L964.7 1392.0 L962.6 1387.8 L960.4 1383.7 L958.0 1379.7 L955.5 1376.0 L952.8 1372.4 L949.9 1368.9 L946.8 1365.7 L943.6 1362.6 L940.2 1359.7 L936.6 1356.9 L932.9 1354.4 L929.0 1352.1 L924.9 1349.9 L920.6 1347.9 L916.2 1346.2 L911.6 1344.6 L906.8 1343.3 L901.9 1342.1 L896.8 1341.2 L895.5 1340.9" fill="none" stroke="#e4fbf8" stroke-width="6.4" stroke-linejoin="round"/>
<polygon points="897.8,1332.1 886.0,1340.0 896.1,1350.0" fill="#e4fbf8" stroke="#62dfca" stroke-width="1.3" stroke-linejoin="miter"/>
<line x1="898.4" y1="1341.2" x2="894.5" y2="1340.8" stroke="#e4fbf8" stroke-width="6.4"/>
<path d="M990.0 1497.0 L991.8 1489.8 L993.5 1482.6 L995.0 1475.5 L996.4 1468.4 L997.7 1461.5 L998.8 1454.5 L999.8 1447.7 L1000.7 1441.0 L1001.4 1434.3 L1002.0 1427.7 L1002.4 1421.1 L1002.7 1414.7 L1002.9 1408.3 L1002.9 1402.0 L1002.7 1395.8 L1002.4 1389.7 L1002.0 1383.7 L1001.4 1377.7 L1000.6 1371.9 L999.8 1366.1 L998.7 1360.5 L997.5 1354.9 L996.1 1349.4 L994.6 1344.0 L992.9 1338.7 L991.1 1333.5 L989.1 1328.4 L986.9 1323.4 L984.6 1318.5 L982.1 1313.8 L979.5 1309.1 L976.7 1304.5 L973.7 1300.1 L970.5 1295.7 L967.2 1291.5 L963.7 1287.3 L960.0 1283.3 L956.2 1279.4 L955.1 1278.3" fill="none" stroke="#62dfca" stroke-width="9" stroke-linejoin="round"/>
<path d="M990.0 1497.0 L991.8 1489.8 L993.5 1482.6 L995.0 1475.5 L996.4 1468.4 L997.7 1461.5 L998.8 1454.5 L999.8 1447.7 L1000.7 1441.0 L1001.4 1434.3 L1002.0 1427.7 L1002.4 1421.1 L1002.7 1414.7 L1002.9 1408.3 L1002.9 1402.0 L1002.7 1395.8 L1002.4 1389.7 L1002.0 1383.7 L1001.4 1377.7 L1000.6 1371.9 L999.8 1366.1 L998.7 1360.5 L997.5 1354.9 L996.1 1349.4 L994.6 1344.0 L992.9 1338.7 L991.1 1333.5 L989.1 1328.4 L986.9 1323.4 L984.6 1318.5 L982.1 1313.8 L979.5 1309.1 L976.7 1304.5 L973.7 1300.1 L970.5 1295.7 L967.2 1291.5 L963.7 1287.3 L960.0 1283.3 L956.2 1279.4 L955.1 1278.3" fill="none" stroke="#e4fbf8" stroke-width="6.4" stroke-linejoin="round"/>
<polygon points="962.2,1272.5 948.0,1272.0 950.3,1286.0" fill="#e4fbf8" stroke="#62dfca" stroke-width="1.3" stroke-linejoin="miter"/>
<line x1="957.4" y1="1280.3" x2="954.4" y2="1277.6" stroke="#e4fbf8" stroke-width="6.4"/>
<path d="M1005.0 1497.0 L1009.1 1491.2 L1013.0 1485.4 L1016.9 1479.6 L1020.7 1473.8 L1024.4 1468.0 L1027.9 1462.1 L1031.4 1456.3 L1034.7 1450.4 L1038.0 1444.6 L1041.1 1438.7 L1044.2 1432.8 L1047.1 1426.9 L1049.9 1420.9 L1052.6 1415.0 L1055.2 1409.1 L1057.8 1403.1 L1060.1 1397.1 L1062.4 1391.1 L1064.6 1385.1 L1066.7 1379.1 L1068.6 1373.1 L1070.5 1367.1 L1072.2 1361.0 L1073.9 1354.9 L1075.4 1348.9 L1076.8 1342.8 L1078.1 1336.7 L1079.3 1330.5 L1080.3 1324.4 L1081.3 1318.3 L1082.1 1312.1 L1082.9 1305.9 L1083.5 1299.7 L1084.0 1293.5 L1084.3 1287.3 L1084.6 1281.1 L1084.8 1274.8 L1084.8 1268.6 L1084.8 1265.5" fill="none" stroke="#62dfca" stroke-width="9" stroke-linejoin="round"/>
<path d="M1005.0 1497.0 L1009.1 1491.2 L1013.0 1485.4 L1016.9 1479.6 L1020.7 1473.8 L1024.4 1468.0 L1027.9 1462.1 L1031.4 1456.3 L1034.7 1450.4 L1038.0 1444.6 L1041.1 1438.7 L1044.2 1432.8 L1047.1 1426.9 L1049.9 1420.9 L1052.6 1415.0 L1055.2 1409.1 L1057.8 1403.1 L1060.1 1397.1 L1062.4 1391.1 L1064.6 1385.1 L1066.7 1379.1 L1068.6 1373.1 L1070.5 1367.1 L1072.2 1361.0 L1073.9 1354.9 L1075.4 1348.9 L1076.8 1342.8 L1078.1 1336.7 L1079.3 1330.5 L1080.3 1324.4 L1081.3 1318.3 L1082.1 1312.1 L1082.9 1305.9 L1083.5 1299.7 L1084.0 1293.5 L1084.3 1287.3 L1084.6 1281.1 L1084.8 1274.8 L1084.8 1268.6 L1084.8 1265.5" fill="none" stroke="#e4fbf8" stroke-width="6.4" stroke-linejoin="round"/>
<polygon points="1093.8,1266.7 1084.5,1256.0 1075.8,1267.3" fill="#e4fbf8" stroke="#62dfca" stroke-width="1.3" stroke-linejoin="miter"/>
<line x1="1084.9" y1="1268.5" x2="1084.8" y2="1264.5" stroke="#e4fbf8" stroke-width="6.4"/>
<path d="M535.5 1163 L 557 1163" fill="none" stroke="#4fa39f" stroke-width="1.3"/>
<path d="M560 1287.6 L 643 1287.6 C 670 1288, 684 1298, 685.8 1309" fill="none" stroke="#4fa39f" stroke-width="1.3"/>
<path d="M536 1378 L 551 1372 C 590 1358, 630 1352, 660 1364" fill="none" stroke="#4fa39f" stroke-width="1.3"/>
<path d="M536 1467 L 646 1467" fill="none" stroke="#4fa39f" stroke-width="1.3"/>
<path d="M948 1380 L 966 1369 C 980 1358, 990 1352, 1003 1351 C 1020 1345, 1040 1350, 1060 1372 L 1083 1390" fill="none" stroke="#4fa39f" stroke-width="1.3"/>
<path d="M942 1466.5 L 1082 1466.5" fill="none" stroke="#4fa39f" stroke-width="1.3"/>
<rect x="557.5" y="1160.0" width="20" height="6" rx="1.5" fill="#c8179c" stroke="#6d0d5a" stroke-width="1" transform="rotate(0 567.5 1163)"/>
<rect x="538.9" y="1284.6" width="21" height="6" rx="1.5" fill="#c8179c" stroke="#6d0d5a" stroke-width="1" transform="rotate(0 549.4 1287.6)"/>
<rect x="674.8" y="1316.7" width="22" height="6" rx="1.5" fill="#c8179c" stroke="#6d0d5a" stroke-width="1" transform="rotate(90 685.8 1319.7)"/>
<rect x="550.7" y="1366.5" width="20" height="6" rx="1.5" fill="#c8179c" stroke="#6d0d5a" stroke-width="1" transform="rotate(-15 560.7 1369.5)"/>
<rect x="656.9" y="1365.5" width="20" height="6" rx="1.5" fill="#c8179c" stroke="#6d0d5a" stroke-width="1" transform="rotate(35 666.9 1368.5)"/>
<rect x="596.5" y="1464.0" width="21" height="6" rx="1.5" fill="#c8179c" stroke="#6d0d5a" stroke-width="1" transform="rotate(0 607 1467)"/>
<rect x="625.1" y="1464.0" width="21" height="6" rx="1.5" fill="#c8179c" stroke="#6d0d5a" stroke-width="1" transform="rotate(0 635.6 1467)"/>
<rect x="947.5" y="1371.5" width="20" height="6" rx="1.5" fill="#c8179c" stroke="#6d0d5a" stroke-width="1" transform="rotate(-30 957.5 1374.5)"/>
<rect x="993.0" y="1347.9" width="20" height="6" rx="1.5" fill="#c8179c" stroke="#6d0d5a" stroke-width="1" transform="rotate(-15 1003 1350.9)"/>
<rect x="1057.4" y="1372.9" width="20" height="9" rx="1.5" fill="#c8179c" stroke="#6d0d5a" stroke-width="1" transform="rotate(33 1067.4 1377.4)"/>
<rect x="924.8" y="1458.7" width="18" height="6" rx="1.5" fill="#c8179c" stroke="#6d0d5a" stroke-width="1" transform="rotate(35 933.8 1461.7)"/>
<text x="373.6" y="1569.8" font-family='"Liberation Serif", serif' font-size="24.5" fill="#111" stroke="#111" stroke-width="0.45" textLength="590.7" lengthAdjust="spacingAndGlyphs"><tspan font-style="italic">Left ventricular assist devices </tspan><tspan font-style="normal">for acute and chronic heart failure treatment.</tspan></text>
<text x="373.6" y="1598.3" font-family='"Liberation Serif", serif' font-size="24.5" fill="#111" stroke="#111" stroke-width="0.45" textLength="834.8" lengthAdjust="spacingAndGlyphs"><tspan font-style="italic">Extracorporeal membrane oxygenation (ECMO) </tspan><tspan font-style="normal">was reported to be lifesaving in a woman with fulminating</tspan></text>
<text x="373.6" y="1626.8" font-family='"Liberation Serif", serif' font-size="24.5" fill="#111" stroke="#111" stroke-width="0.45" textLength="225.6" lengthAdjust="spacingAndGlyphs"><tspan font-style="normal">peripartum cardiomyopathy</tspan></text>
<text x="659.7" y="1873.5" font-family='"Liberation Sans", sans-serif' font-size="30.5" font-weight="bold" font-style="normal" fill="#000" textLength="52.7" lengthAdjust="spacingAndGlyphs">986</text>
</svg>
</body></html>
